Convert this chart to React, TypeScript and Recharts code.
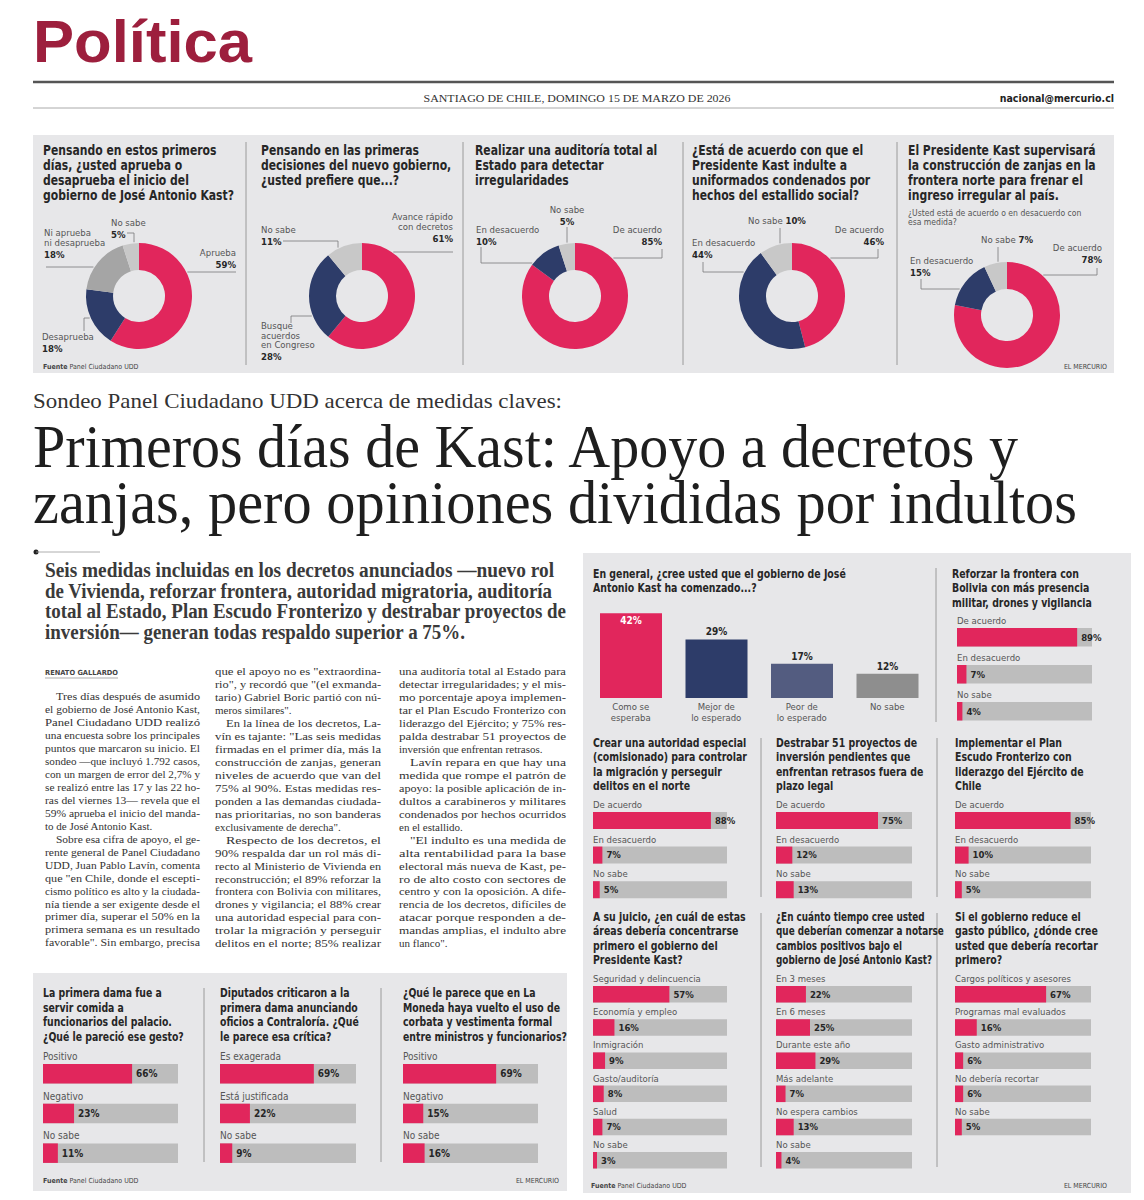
import React from 'react';
import { PieChart, Pie, Cell, BarChart, Bar, XAxis, YAxis, LabelList } from 'recharts';

const RED = '#e1265c';
const NAVY = '#2d3c69';
const SLATE = '#535c80';
const MID = '#a5a5a5';
const LIGHT = '#c8c8c8';
const DARKGRAY = '#8e8e8e';
const TRACK = '#bdbdbd';
const PANEL = '#e7e7e9';
const INK = '#262626';
const SUB = '#555';

const SANS = "'Liberation Sans Narrow', 'DejaVu Sans Condensed', 'Liberation Sans', sans-serif";
const SERIF = "'Liberation Serif', 'DejaVu Serif', serif";

// ---- top strip donuts
const approvalNames = ['Aprueba', 'Desaprueba', 'Ni aprueba ni desaprueba', 'No sabe'];
const approvalValues = [59, 18, 18, 5];
const approvalLines = [['Aprueba'], ['Desaprueba'], ['Ni aprueba', 'ni desaprueba'], ['No sabe']];

const preferNames = ['Avance rápido con decretos', 'Busque acuerdos en Congreso', 'No sabe'];
const preferValues = [61, 28, 11];
const preferLines = [['Avance rápido', 'con decretos'], ['Busque', 'acuerdos', 'en Congreso'], ['No sabe']];

const agreeNames = ['De acuerdo', 'En desacuerdo', 'No sabe'];
const agreeLines = [['De acuerdo'], ['En desacuerdo'], ['No sabe']];
const auditValues = [85, 10, 5];
const pardonValues = [46, 44, 10];
const ditchValues = [78, 15, 7];

// ---- right block
const outlookNames = ['Como se esperaba', 'Mejor de lo esperado', 'Peor de lo esperado', 'No sabe'];
const outlookValues = [42, 29, 17, 12];
const outlookTicks = [['Como se', 'esperaba'], ['Mejor de', 'lo esperado'], ['Peor de', 'lo esperado'], ['No sabe']];

const borderValues = [89, 7, 4];
const authorityValues = [88, 7, 5];
const projectsValues = [75, 12, 13];
const shieldValues = [85, 10, 5];

const areaNames = ['Seguridad y delincuencia', 'Economía y empleo', 'Inmigración', 'Gasto/auditoría', 'Salud', 'No sabe'];
const areaValues = [57, 16, 9, 8, 7, 3];
const timeNames = ['En 3 meses', 'En 6 meses', 'Durante este año', 'Más adelante', 'No espera cambios', 'No sabe'];
const timeValues = [22, 25, 29, 7, 13, 4];
const cutNames = ['Cargos políticos y asesores', 'Programas mal evaluados', 'Gasto administrativo', 'No debería recortar', 'No sabe'];
const cutValues = [67, 16, 6, 6, 5];

// ---- bottom left block
const gestureNames = ['Positivo', 'Negativo', 'No sabe'];
const gestureValues = [66, 23, 11];
const critiqueNames = ['Es exagerada', 'Está justificada', 'No sabe'];
const critiqueValues = [69, 22, 9];
const tieNames = ['Positivo', 'Negativo', 'No sabe'];
const tieValues = [69, 15, 16];

// ---- article text
const col1 = [
  '>Tres días después de asumido',
  'el gobierno de José Antonio Kast,',
  'Panel Ciudadano UDD realizó',
  'una encuesta sobre los principales',
  'puntos que marcaron su inicio. El',
  'sondeo —que incluyó 1.792 casos,',
  'con un margen de error del 2,7% y',
  'se realizó entre las 17 y las 22 ho-',
  'ras del viernes 13— revela que el',
  '59% aprueba el inicio del manda-',
  'to de José Antonio Kast.|',
  '>Sobre esa cifra de apoyo, el ge-',
  'rente general de Panel Ciudadano',
  'UDD, Juan Pablo Lavín, comenta',
  'que "en Chile, donde el escepti-',
  'cismo político es alto y la ciudada-',
  'nía tiende a ser exigente desde el',
  'primer día, superar el 50% en la',
  'primera semana es un resultado',
  'favorable". Sin embargo, precisa',
];
const col2 = [
  'que el apoyo no es "extraordina-',
  'rio", y recordó que "(el exmanda-',
  'tario) Gabriel Boric partió con nú-',
  'meros similares".|',
  '>En la línea de los decretos, La-',
  'vín es tajante: "Las seis medidas',
  'firmadas en el primer día, más la',
  'construcción de zanjas, generan',
  'niveles de acuerdo que van del',
  '75% al 90%. Estas medidas res-',
  'ponden a las demandas ciudada-',
  'nas prioritarias, no son banderas',
  'exclusivamente de derecha".|',
  '>Respecto de los decretos, el',
  '90% respalda dar un rol más di-',
  'recto al Ministerio de Vivienda en',
  'reconstrucción; el 89% reforzar la',
  'frontera con Bolivia con militares,',
  'drones y vigilancia; el 88% crear',
  'una autoridad especial para con-',
  'trolar la migración y perseguir',
  'delitos en el norte; 85% realizar',
];
const col3 = [
  'una auditoría total al Estado para',
  'detectar irregularidades; y el mis-',
  'mo porcentaje apoya implemen-',
  'tar el Plan Escudo Fronterizo con',
  'liderazgo del Ejército; y 75% res-',
  'palda destrabar 51 proyectos de',
  'inversión que enfrentan retrasos.|',
  '>Lavín repara en que hay una',
  'medida que rompe el patrón de',
  'apoyo: la posible aplicación de in-',
  'dultos a carabineros y militares',
  'condenados por hechos ocurridos',
  'en el estallido.|',
  '>"El indulto es una medida de',
  'alta rentabilidad para la base',
  'electoral más nueva de Kast, pe-',
  'ro de alto costo con sectores de',
  'centro y con la oposición. A dife-',
  'rencia de los decretos, difíciles de',
  'atacar porque responden a de-',
  'mandas amplias, el indulto abre',
  'un flanco".|',
];
const leadLines = [
  'Seis medidas incluidas en los decretos anunciados —nuevo rol',
  'de Vivienda, reforzar frontera, autoridad migratoria, auditoría',
  'total al Estado, Plan Escudo Fronterizo y destrabar proyectos de',
  'inversión— generan todas respaldo superior a 75%.',
];
const leadWidths = [509, 507, 521, 420];

type Spec = { x: number; y: number; a: 'start' | 'end' | 'middle'; lh?: number; inline?: boolean; pts: number[][]; dir: 'h' | 'v' };

const approvalLayout: Spec[] = [
  { x: 236, y: 256, a: 'end', pts: [[236, 272]], dir: 'h' },
  { x: 42, y: 340, a: 'start', pts: [[84, 331], [84, 318]], dir: 'h' },
  { x: 44, y: 236, a: 'start', pts: [[46, 267]], dir: 'h' },
  { x: 111, y: 226, a: 'start', pts: [[127, 233], [134, 233]], dir: 'v' },
];
const preferLayout: Spec[] = [
  { x: 453, y: 220, a: 'end', pts: [[453, 252]], dir: 'h' },
  { x: 261, y: 329, a: 'start', lh: 9.5, pts: [[291, 323], [291, 316]], dir: 'h' },
  { x: 261, y: 233, a: 'start', pts: [[283, 241], [338, 241]], dir: 'v' },
];
const auditLayout: Spec[] = [
  { x: 662, y: 233, a: 'end', pts: [[662, 249], [662, 258]], dir: 'h' },
  { x: 476, y: 233, a: 'start', pts: [[481, 247], [481, 263]], dir: 'h' },
  { x: 567, y: 213, a: 'middle', pts: [[567, 227]], dir: 'v' },
];
const pardonLayout: Spec[] = [
  { x: 884, y: 233, a: 'end', pts: [[878, 249], [878, 258]], dir: 'h' },
  { x: 692, y: 246, a: 'start', pts: [[703, 262], [703, 272]], dir: 'h' },
  { x: 748, y: 224, a: 'start', inline: true, pts: [[780, 228]], dir: 'v' },
];
const ditchLayout: Spec[] = [
  { x: 1102, y: 251, a: 'end', pts: [[1097, 268], [1097, 275]], dir: 'h' },
  { x: 910, y: 264, a: 'start', pts: [[921, 279], [921, 289]], dir: 'h' },
  { x: 981, y: 243, a: 'start', inline: true, pts: [[998, 247]], dir: 'v' },
];

function Donut({ box, c, names, values, colors, lines, layout }: any) {
  const [left, top, w, h] = box;
  const data = names.map((name: string, i: number) => ({ name, value: values[i] }));
  const renderLabel = (p: any) => {
    const i = p.index;
    const L: Spec = layout[i];
    const pts = L.pts.map(([x, y]) => [x - left, y - top]);
    const lastPt = pts[pts.length - 1];
    const R = p.outerRadius + 1;
    let ex: number;
    let ey: number;
    if (L.dir === 'h') {
      const dy = lastPt[1] - p.cy;
      const dx = Math.sqrt(Math.max(R * R - dy * dy, 0));
      ex = lastPt[0] > p.cx ? p.cx + dx : p.cx - dx;
      ey = lastPt[1];
    } else {
      const dx = lastPt[0] - p.cx;
      const dy = Math.sqrt(Math.max(R * R - dx * dx, 0));
      ex = lastPt[0];
      ey = lastPt[1] < p.cy ? p.cy - dy : p.cy + dy;
    }
    const d = 'M' + pts.map((q) => q.join(',')).join(' L') + ` L${ex},${ey}`;
    const lh = L.lh ?? 10;
    const x = L.x - left;
    const y = L.y - top;
    const nameLines: string[] = lines[i];
    const pct = `${values[i]}%`;
    return (
      <g key={`lab-${i}`}>
        <path d={d} fill="none" stroke="#7a7a7a" strokeWidth={0.8} />
        {L.inline ? (
          <text x={x} y={y} textAnchor={L.a} fontFamily={SANS} fontSize={9.5} fill={SUB}>
            {nameLines.join(' ')} <tspan fontWeight={700} fill={INK}>{pct}</tspan>
          </text>
        ) : (
          <text x={x} y={y} textAnchor={L.a} fontFamily={SANS} fontSize={9.5} fill={SUB}>
            {nameLines.map((t, k) => (
              <tspan key={k} x={x} y={y + k * lh}>{t}</tspan>
            ))}
            <tspan x={x} y={y + nameLines.length * lh + 2} fontWeight={700} fill={INK}>{pct}</tspan>
          </text>
        )}
      </g>
    );
  };
  return (
    <div style={{ position: 'absolute', left, top }}>
      <PieChart width={w} height={h} margin={{ top: 0, right: 0, bottom: 0, left: 0 }}>
        <Pie
          data={data}
          dataKey="value"
          nameKey="name"
          cx={c[0] - left}
          cy={c[1] - top}
          innerRadius={26}
          outerRadius={53}
          startAngle={90}
          endAngle={-270}
          stroke="none"
          isAnimationActive={false}
          label={renderLabel}
          labelLine={false}
        >
          {data.map((_: any, i: number) => (
            <Cell key={i} fill={colors[i]} />
          ))}
        </Pie>
      </PieChart>
    </div>
  );
}

function HBars({ left, barTop, width, pitch, barH, names, values, fs = 9.5 }: any) {
  const data = names.map((name: string, i: number) => ({ name, value: values[i] }));
  const MT = 12;
  const pad = Math.floor((pitch - barH) / 2);
  const renderLab = (p: any) => {
    const { x, y, width: bw, height: bh, index } = p;
    return (
      <g>
        <text x={x} y={y - 4} fontFamily={SANS} fontSize={fs} fill={SUB}>{names[index]}</text>
        <text x={x + bw + 4} y={y + bh / 2 + 3.4} fontFamily={SANS} fontSize={fs} fontWeight={700} fill={INK}>
          {values[index]}%
        </text>
      </g>
    );
  };
  return (
    <div style={{ position: 'absolute', left, top: barTop - pad - MT }}>
      <BarChart
        layout="vertical"
        width={width + 22}
        height={names.length * pitch + MT}
        data={data}
        margin={{ top: MT, right: 22, bottom: 0, left: 0 }}
        barSize={barH}
      >
        <XAxis type="number" domain={[0, 100]} hide />
        <YAxis type="category" dataKey="name" hide />
        <Bar dataKey="value" fill={RED} background={{ fill: TRACK }} isAnimationActive={false}>
          <LabelList dataKey="value" content={renderLab} />
        </Bar>
      </BarChart>
    </div>
  );
}

function OutlookChart() {
  const data = outlookNames.map((name, i) => ({ name, value: outlookValues[i] }));
  const colors = [RED, NAVY, SLATE, DARKGRAY];
  const renderTick = (p: any) => {
    const i = outlookNames.indexOf(p.payload.value);
    const lines = outlookTicks[i] || [];
    return (
      <text x={p.x} y={p.y} textAnchor="middle" fontFamily={SANS} fontSize={9.5} fill={SUB}>
        {lines.map((t, k) => (
          <tspan key={k} x={p.x} y={p.y + 11.5 + k * 11}>{t}</tspan>
        ))}
      </text>
    );
  };
  const renderValue = (p: any) => {
    const { x, y, width, index } = p;
    const v = outlookValues[index];
    const inside = v >= 40;
    return (
      <text x={x + width / 2} y={inside ? y + 11 : y - 4} textAnchor="middle" fontFamily={SANS} fontSize={10} fontWeight={700} fill={inside ? '#fff' : INK}>
        {v}%
      </text>
    );
  };
  return (
    <div style={{ position: 'absolute', left: 588, top: 597 }}>
      <BarChart width={342} height={135} data={data} margin={{ top: 0, right: 0, bottom: 0, left: 0 }} barSize={62}>
        <XAxis dataKey="name" axisLine={false} tickLine={false} tickSize={0} tickMargin={0} interval={0} height={34} tick={renderTick} />
        <YAxis hide domain={[0, 50]} />
        <Bar dataKey="value" isAnimationActive={false}>
          {data.map((_, i) => (
            <Cell key={i} fill={colors[i]} />
          ))}
          <LabelList dataKey="value" content={renderValue} />
        </Bar>
      </BarChart>
    </div>
  );
}

// title block; sx squeezes the wide condensed fallback font to the paper's narrow face
function Lines({ x, y, lh, lines, size, weight = 700, color = INK, family = SANS, sx = 1 }: any) {
  return (
    <text
      x={x}
      y={y}
      fontFamily={family}
      fontSize={size}
      fontWeight={weight}
      fill={color}
      transform={sx === 1 ? undefined : `translate(${x} 0) scale(${sx} 1) translate(${-x} 0)`}
    >
      {lines.map((t: string, i: number) => (
        <tspan key={i} x={x} y={y + i * lh}>{t}</tspan>
      ))}
    </text>
  );
}

function BodyCol({ x, y, width, lines }: any) {
  return (
    <g>
      {lines.map((raw: string, i: number) => {
        const indent = raw.startsWith('>') ? 11 : 0;
        const last = raw.endsWith('|');
        const t = raw.replace(/^>/, '').replace(/\|$/, '');
        return (
          <text
            key={i}
            x={x + indent}
            y={y + i * 12.97}
            fontFamily={SERIF}
            fontSize={11}
            fill="#333"
            textLength={last ? undefined : width - indent}
            lengthAdjust={last ? undefined : 'spacingAndGlyphs'}
          >
            {t}
          </text>
        );
      })}
    </g>
  );
}

function Source({ x, y, rx }: any) {
  return (
    <g fontFamily={SANS} fontSize={7} fill="#444">
      <text x={x} y={y}>
        <tspan fontWeight={700}>Fuente</tspan> Panel Ciudadano UDD
      </text>
      <text x={rx} y={y} textAnchor="end">EL MERCURIO</text>
    </g>
  );
}

const TOP_SX = 0.86;
const PANEL_SX = 0.87;
const LOW_SX = 0.83;

export default function App() {
  return (
    <div style={{ position: 'relative', width: 1144, height: 1200, overflow: 'hidden', background: '#fff' }}>
      <style>{'body{margin:0;background:#fff}'}</style>
      <svg width={1144} height={1200} style={{ position: 'absolute', left: 0, top: 0 }}>
        {/* masthead */}
        <text x={33} y={62} fontFamily="'Liberation Sans', Arial, sans-serif" fontWeight={700} fontSize={60} fill="#9d1f3d" textLength={219} lengthAdjust="spacingAndGlyphs">Política</text>
        <line x1={33} x2={1114} y1={82} y2={82} stroke="#555" strokeWidth={2.5} />
        <text x={577} y={101.5} textAnchor="middle" fontFamily={SERIF} fontSize={10} fill="#333" textLength={307} lengthAdjust="spacingAndGlyphs">SANTIAGO DE CHILE, DOMINGO 15 DE MARZO DE 2026</text>
        <text x={1114} y={101.5} textAnchor="end" fontFamily={SANS} fontWeight={700} fontSize={10.5} fill="#222">nacional@mercurio.cl</text>
        <line x1={33} x2={1114} y1={108} y2={108} stroke="#aaa" strokeWidth={1} />

        {/* top strip */}
        <rect x={33} y={135} width={1081} height={238} fill={PANEL} />
        {[246, 463, 683, 897].map((x) => (
          <line key={x} x1={x} x2={x} y1={142} y2={365} stroke="#9a9a9a" strokeWidth={1} />
        ))}
        <Lines x={43} y={155} lh={15} size={14} sx={TOP_SX} lines={['Pensando en estos primeros', 'días, ¿usted aprueba o', 'desaprueba el inicio del', 'gobierno de José Antonio Kast?']} />
        <Lines x={261} y={155} lh={15} size={14} sx={TOP_SX} lines={['Pensando en las primeras', 'decisiones del nuevo gobierno,', '¿usted prefiere que...?']} />
        <Lines x={475} y={155} lh={15} size={14} sx={TOP_SX} lines={['Realizar una auditoría total al', 'Estado para detectar', 'irregularidades']} />
        <Lines x={692} y={155} lh={15} size={14} sx={TOP_SX} lines={['¿Está de acuerdo con que el', 'Presidente Kast indulte a', 'uniformados condenados por', 'hechos del estallido social?']} />
        <Lines x={908} y={155} lh={15} size={14} sx={TOP_SX} lines={['El Presidente Kast supervisará', 'la construcción de zanjas en la', 'frontera norte para frenar el', 'ingreso irregular al país.']} />
        <Lines x={908} y={216} lh={9.5} size={9} weight={400} color={SUB} sx={0.95} lines={['¿Usted está de acuerdo o en desacuerdo con', 'esa medida?']} />
        <Source x={43} y={369} rx={1107} />

        {/* headline */}
        <text x={33} y={408} fontFamily={SERIF} fontSize={22} fill="#333" textLength={529} lengthAdjust="spacingAndGlyphs">Sondeo Panel Ciudadano UDD acerca de medidas claves:</text>
        <text x={33} y={467} fontFamily={SERIF} fontSize={62} fill="#1e1e1e" textLength={985} lengthAdjust="spacingAndGlyphs">Primeros días de Kast: Apoyo a decretos y</text>
        <text x={33} y={523} fontFamily={SERIF} fontSize={62} fill="#1e1e1e" textLength={1044} lengthAdjust="spacingAndGlyphs">zanjas, pero opiniones divididas por indultos</text>

        {/* lead + body */}
        <circle cx={36} cy={552} r={2.5} fill="#222" />
        <line x1={36} x2={100} y1={552} y2={552} stroke="#999" strokeWidth={0.8} />
        {leadLines.map((t, i) => (
          <text key={i} x={45} y={577 + i * 20.5} fontFamily={SERIF} fontWeight={700} fontSize={20} fill="#3a3a3a" textLength={leadWidths[i]} lengthAdjust="spacingAndGlyphs">{t}</text>
        ))}
        <text x={45} y={675} fontFamily={SANS} fontWeight={700} fontSize={7} fill="#444" textLength={73} lengthAdjust="spacingAndGlyphs">RENATO GALLARDO</text>
        <line x1={45} x2={118} y1={678} y2={678} stroke="#777" strokeWidth={0.6} />
        <BodyCol x={45} y={700} width={155} lines={col1} />
        <BodyCol x={215} y={675} width={166} lines={col2} />
        <BodyCol x={399} y={675} width={167} lines={col3} />

        {/* bottom left block */}
        <rect x={33} y={973} width={534} height={218} fill={PANEL} />
        {[204, 381].map((x) => (
          <line key={x} x1={x} x2={x} y1={988} y2={1162} stroke="#9a9a9a" strokeWidth={1} />
        ))}
        <Lines x={43} y={997.5} lh={14.5} size={12.5} sx={LOW_SX} lines={['La primera dama fue a', 'servir comida a', 'funcionarios del palacio.', '¿Qué le pareció ese gesto?']} />
        <Lines x={220} y={997.5} lh={14.5} size={12.5} sx={LOW_SX} lines={['Diputados criticaron a la', 'primera dama anunciando', 'oficios a Contraloría. ¿Qué', 'le parece esa crítica?']} />
        <Lines x={403} y={997.5} lh={14.5} size={12.5} sx={LOW_SX} lines={['¿Qué le parece que en La', 'Moneda haya vuelto el uso de', 'corbata y vestimenta formal', 'entre ministros y funcionarios?']} />
        <Source x={43} y={1183} rx={559} />

        {/* right block */}
        <rect x={583} y={553} width={548} height={640} fill={PANEL} />
        <line x1={936} x2={936} y1={568} y2={722} stroke="#9a9a9a" strokeWidth={1} />
        {[761, 937].map((x) => (
          <g key={x}>
            <line x1={x} x2={x} y1={738} y2={897} stroke="#9a9a9a" strokeWidth={1} />
            <line x1={x} x2={x} y1={913} y2={1167} stroke="#9a9a9a" strokeWidth={1} />
          </g>
        ))}
        <Lines x={593} y={578} lh={14.5} size={12} sx={PANEL_SX} lines={['En general, ¿cree usted que el gobierno de José', 'Antonio Kast ha comenzado...?']} />
        <Lines x={952} y={578} lh={14.5} size={12} sx={PANEL_SX} lines={['Reforzar la frontera con', 'Bolivia con más presencia', 'militar, drones y vigilancia']} />
        <Lines x={593} y={747} lh={14.5} size={12} sx={PANEL_SX} lines={['Crear una autoridad especial', '(comisionado) para controlar', 'la migración y perseguir', 'delitos en el norte']} />
        <Lines x={776} y={747} lh={14.5} size={12} sx={PANEL_SX} lines={['Destrabar 51 proyectos de', 'inversión pendientes que', 'enfrentan retrasos fuera de', 'plazo legal']} />
        <Lines x={955} y={747} lh={14.5} size={12} sx={PANEL_SX} lines={['Implementar el Plan', 'Escudo Fronterizo con', 'liderazgo del Ejército de', 'Chile']} />
        <Lines x={593} y={921} lh={14.3} size={12} sx={PANEL_SX} lines={['A su juicio, ¿en cuál de estas', 'áreas debería concentrarse', 'primero el gobierno del', 'Presidente Kast?']} />
        <Lines x={776} y={921} lh={14.3} size={12} sx={0.82} lines={['¿En cuánto tiempo cree usted', 'que deberían comenzar a notarse', 'cambios positivos bajo el', 'gobierno de José Antonio Kast?']} />
        <Lines x={955} y={921} lh={14.3} size={12} sx={PANEL_SX} lines={['Si el gobierno reduce el', 'gasto público, ¿dónde cree', 'usted que debería recortar', 'primero?']} />
        <Source x={591} y={1188} rx={1107} />
      </svg>

      <Donut box={[34, 205, 212, 167]} c={[139, 296]} names={approvalNames} values={approvalValues} colors={[RED, NAVY, MID, LIGHT]} lines={approvalLines} layout={approvalLayout} />
      <Donut box={[248, 205, 214, 167]} c={[362, 296]} names={preferNames} values={preferValues} colors={[RED, NAVY, LIGHT]} lines={preferLines} layout={preferLayout} />
      <Donut box={[465, 200, 217, 172]} c={[575, 296]} names={agreeNames} values={auditValues} colors={[RED, NAVY, LIGHT]} lines={agreeLines} layout={auditLayout} />
      <Donut box={[685, 205, 211, 167]} c={[792, 296]} names={agreeNames} values={pardonValues} colors={[RED, NAVY, LIGHT]} lines={agreeLines} layout={pardonLayout} />
      <Donut box={[899, 228, 214, 144]} c={[1007, 315]} names={agreeNames} values={ditchValues} colors={[RED, NAVY, LIGHT]} lines={agreeLines} layout={ditchLayout} />

      <OutlookChart />
      <HBars left={957} barTop={628} width={135} pitch={37} barH={18.5} names={agreeNames} values={borderValues} />
      <HBars left={593} barTop={811} width={134} pitch={34.6} barH={17} names={agreeNames} values={authorityValues} />
      <HBars left={776} barTop={811} width={136} pitch={34.6} barH={17} names={agreeNames} values={projectsValues} />
      <HBars left={955} barTop={811} width={136} pitch={34.6} barH={17} names={agreeNames} values={shieldValues} />
      <HBars left={593} barTop={986} width={134} pitch={33.2} barH={16.5} names={areaNames} values={areaValues} />
      <HBars left={776} barTop={986} width={136} pitch={33.2} barH={16.5} names={timeNames} values={timeValues} />
      <HBars left={955} barTop={986} width={136} pitch={33.2} barH={16.5} names={cutNames} values={cutValues} />
      <HBars left={43} barTop={1064} width={135} pitch={39.7} barH={19.5} names={gestureNames} values={gestureValues} fs={10} />
      <HBars left={220} barTop={1064} width={136} pitch={39.7} barH={19.5} names={critiqueNames} values={critiqueValues} fs={10} />
      <HBars left={403} barTop={1064} width={135} pitch={39.7} barH={19.5} names={tieNames} values={tieValues} fs={10} />
    </div>
  );
}
